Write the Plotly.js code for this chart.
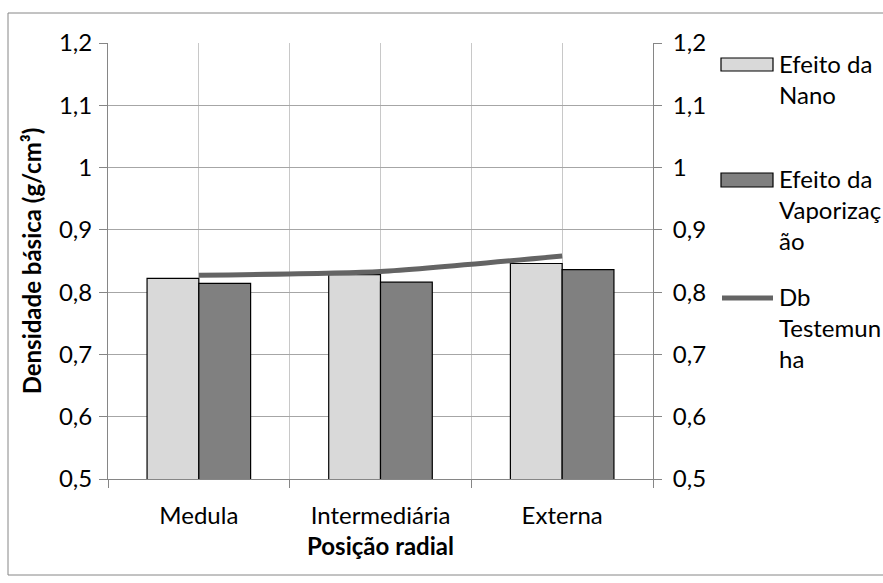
<!DOCTYPE html>
<html>
<head>
<meta charset="utf-8">
<script src="https://cdn.plot.ly/plotly-3.0.1.min.js"></script>
<style>
  html, body { margin: 0; padding: 0; background: #ffffff; }
  #chart { width: 883px; height: 583px; }
</style>
</head>
<body>
<div id="chart"></div>
<script>
// Posição radial (categorias do eixo X)
const categorias = ['Medula', 'Intermediária', 'Externa'];

// Densidade básica (g/cm³) por tratamento
const efeitoNano = [0.822, 0.828, 0.846];
const efeitoVaporizacao = [0.814, 0.816, 0.836];
const dbTestemunha = [0.827, 0.833, 0.858];

// Nomes das séries (quebrados em linhas como na legenda)
const nomesSeries = [
  'Efeito da<br>Nano',
  'Efeito da<br>Vaporizaç<br>ão',
  'Db<br>Testemun<br>ha'
];

const FONT = 'Lato, "Open Sans", sans-serif';
const COR_CLARA = '#d9d9d9';
const COR_ESCURA = '#808080';
const COR_LINHA = '#646464';
const COR_EIXO = '#868686';
const COR_GRADE_H = '#a6a6a6';
const COR_GRADE_V = '#c8c8c8';

// Área de plotagem em pixels
const W = 883, H = 583;
const M = { l: 108, r: 230, t: 43, b: 104 };
const plotW = W - M.l - M.r;
const plotH = H - M.t - M.b;
const px = x => (x - M.l) / plotW;
const py = y => (H - M.b - y) / plotH;

const idx = categorias.map((c, i) => i);

const traces = [
  {
    type: 'bar',
    name: nomesSeries[0],
    x: idx,
    y: efeitoNano,
    marker: { color: COR_CLARA, line: { color: '#000000', width: 1.2 } },
    hoverinfo: 'skip'
  },
  {
    type: 'bar',
    name: nomesSeries[1],
    x: idx,
    y: efeitoVaporizacao,
    marker: { color: COR_ESCURA, line: { color: '#000000', width: 1.2 } },
    hoverinfo: 'skip'
  },
  {
    type: 'scatter',
    mode: 'lines',
    name: nomesSeries[2],
    x: idx,
    y: dbTestemunha,
    yaxis: 'y2',
    line: { color: COR_LINHA, width: 5, shape: 'spline', smoothing: 0.6 },
    hoverinfo: 'skip'
  }
];

const eixoY = {
  range: [0.5, 1.2],
  dtick: 0.1,
  tick0: 0.5,
  showline: true,
  linecolor: COR_EIXO,
  linewidth: 1,
  ticks: 'outside',
  ticklen: 8,
  tickcolor: COR_EIXO,
  showgrid: true,
  gridcolor: COR_GRADE_H,
  gridwidth: 1,
  zeroline: false,
  tickfont: { family: FONT, size: 24, color: '#000000' },
  fixedrange: true
};

// Legenda desenhada à direita
const legShapes = [
  { type: 'rect', xref: 'paper', yref: 'paper',
    x0: px(721), x1: px(773), y0: py(58), y1: py(71),
    fillcolor: COR_CLARA, line: { color: '#000000', width: 1.2 } },
  { type: 'rect', xref: 'paper', yref: 'paper',
    x0: px(721), x1: px(773), y0: py(173), y1: py(187),
    fillcolor: COR_ESCURA, line: { color: '#000000', width: 1.2 } },
  { type: 'line', xref: 'paper', yref: 'paper',
    x0: px(722), x1: px(773), y0: py(298), y1: py(298),
    line: { color: COR_LINHA, width: 5 } },
  // moldura do gráfico
  { type: 'rect', xref: 'paper', yref: 'paper', layer: 'below',
    x0: px(8), x1: px(900), y0: py(13), y1: py(575),
    fillcolor: 'rgba(0,0,0,0)', line: { color: COR_EIXO, width: 1 } }
];

const legTops = [65, 180, 298];
const legAnnotations = nomesSeries.map((n, i) => ({
  xref: 'paper', yref: 'paper',
  x: px(777), y: py(legTops[i] - 18),
  xanchor: 'left', yanchor: 'top', align: 'left',
  showarrow: false,
  text: n,
  font: { family: FONT, size: 24, color: '#000000' }
}));

const layout = {
  width: W,
  height: H,
  margin: M,
  paper_bgcolor: '#ffffff',
  plot_bgcolor: '#ffffff',
  separators: ',.',
  showlegend: false,
  barmode: 'group',
  bargap: 0.43,
  bargroupgap: 0,
  font: { family: FONT, size: 24, color: '#000000' },
  xaxis: {
    range: [-0.5, 2.5],
    tickmode: 'array',
    tickvals: idx,
    ticktext: categorias,
    ticks: '',
    ticklabelstandoff: 15,
    showgrid: true,
    gridcolor: COR_GRADE_V,
    gridwidth: 1,
    showline: true,
    linecolor: COR_EIXO,
    linewidth: 1,
    mirror: false,
    zeroline: false,
    tickfont: { family: FONT, size: 24, color: '#000000' },
    minor: {
      tick0: -0.5,
      dtick: 1,
      ticks: 'outside',
      ticklen: 8,
      tickcolor: COR_EIXO,
      showgrid: true,
      gridcolor: COR_GRADE_V,
      gridwidth: 1
    },
    title: {
      text: '<b>Posição radial</b>',
      font: { family: FONT, size: 24, color: '#000000' },
      standoff: 10
    },
    fixedrange: true
  },
  yaxis: Object.assign({}, eixoY, {
    ticklabelstandoff: 2,
    title: {
      text: '<b>Densidade básica (g/cm³)</b>',
      font: { family: FONT, size: 24, color: '#000000' },
      standoff: 10
    }
  }),
  yaxis2: Object.assign({}, eixoY, {
    overlaying: 'y',
    side: 'right',
    showgrid: false,
    ticklabelstandoff: 6
  }),
  shapes: legShapes,
  annotations: legAnnotations
};

Plotly.newPlot('chart', traces, layout, { displayModeBar: false, staticPlot: true });
</script>
</body>
</html>
